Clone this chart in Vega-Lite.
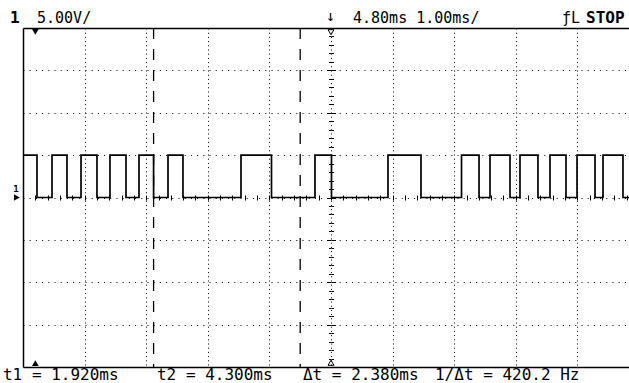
{
  "$schema": "https://vega.github.io/schema/vega-lite/v6.json",
  "width": 606,
  "height": 339,
  "autosize": {"type": "none"},
  "padding": {"left": 23, "top": 28, "right": 0, "bottom": 16},
  "background": "#ffffff",
  "config": {"view": {"stroke": null}, "text": {"font": "DejaVu Sans Mono", "color": "#000"}},
  "datasets": {
    "signal": [
      {"t": -0.2, "v": 5}, {"t": 0.027, "v": 0}, {"t": 0.271, "v": 5}, {"t": 0.514, "v": 0},
      {"t": 0.742, "v": 5}, {"t": 1.001, "v": 0}, {"t": 1.212, "v": 5}, {"t": 1.472, "v": 0},
      {"t": 1.683, "v": 5}, {"t": 1.92, "v": 0}, {"t": 2.154, "v": 5}, {"t": 2.397, "v": 0},
      {"t": 3.339, "v": 5}, {"t": 3.834, "v": 0}, {"t": 4.54, "v": 5}, {"t": 4.808, "v": 0},
      {"t": 5.725, "v": 5}, {"t": 6.261, "v": 0}, {"t": 6.919, "v": 5}, {"t": 7.203, "v": 0},
      {"t": 7.381, "v": 5}, {"t": 7.706, "v": 0}, {"t": 7.868, "v": 5}, {"t": 8.16, "v": 0},
      {"t": 8.355, "v": 5}, {"t": 8.615, "v": 0}, {"t": 8.794, "v": 5}, {"t": 9.086, "v": 0},
      {"t": 9.216, "v": 5}, {"t": 9.54, "v": 0}, {"t": 9.6377, "v": 0}
    ],
    "cursors": [{"t": 1.92, "cursor": "t1"}, {"t": 4.3, "cursor": "t2"}],
    "filledMarkers": [
      {"t": 0, "v": 19.55, "marker": "top"},
      {"t": 0, "v": -19.55, "marker": "bottom"},
      {"t": -0.3, "v": 0, "marker": "ground"}
    ],
    "hollowMarkers": [
      {"t": 4.8, "v": 19.5, "marker": "top"},
      {"t": 4.8, "v": -19.5, "marker": "bottom"}
    ],
    "topText": [
      {"t": 0.027, "v": 21.2, "label": "5.00V/"},
      {"t": 4.72, "v": 21.4, "label": "↓"},
      {"t": 5.157, "v": 21.2, "label": "4.80ms 1.00ms/"},
      {"t": 8.55, "v": 21.2, "label": "ƒL"}
    ],
    "bottomText": [
      {"t": -0.525, "v": -20.95, "label": "t1 = 1.920ms"},
      {"t": 1.975, "v": -20.95, "label": "t2 = 4.300ms"},
      {"t": 4.345, "v": -20.95, "label": "Δt = 2.380ms"},
      {"t": 6.488, "v": -20.95, "label": "1/Δt = 420.2 Hz"}
    ],
    "boldText": [
      {"t": -0.411, "v": 21.2, "label": "1"},
      {"t": 8.94, "v": 21.2, "label": "STOP"}
    ],
    "groundText": [{"t": -0.36, "v": 0.95, "label": "1"}]
  },
  "resolve": {"axis": {"x": "independent", "y": "independent"}},
  "layer": [
    {
      "data": {"name": "signal"},
      "mark": {"type": "line", "interpolate": "step-after", "color": "#000", "strokeWidth": 1.7, "clip": true},
      "encoding": {
        "x": {"field": "t", "type": "quantitative",
          "scale": {"domain": [-0.2, 9.6377], "nice": false, "zero": false},
          "axis": {"orient": "bottom", "values": [0.8, 1.8, 2.8, 3.8, 4.8, 5.8, 6.8, 7.8, 8.8],
            "grid": true, "gridDash": [1, 3.2], "gridColor": "#000", "gridOpacity": 1, "gridWidth": 1,
            "ticks": false, "labels": false, "domain": true, "domainColor": "#000", "domainWidth": 1.5, "title": null}},
        "y": {"field": "v", "type": "quantitative",
          "scale": {"domain": [-20, 20], "nice": false, "zero": false},
          "axis": {"orient": "left", "values": [-15, -10, -5, 0, 5, 10, 15],
            "grid": true, "gridDash": [1, 5.2], "gridColor": "#000", "gridOpacity": 1, "gridWidth": 1,
            "ticks": false, "labels": false, "domain": true, "domainColor": "#000", "domainWidth": 1.5, "title": null}}
      }
    },
    {
      "data": {"name": "cursors"},
      "mark": {"type": "rule", "color": "#000", "strokeWidth": 1.3, "strokeDash": [11, 10]},
      "encoding": {
        "x": {"field": "t", "type": "quantitative",
          "axis": {"orient": "top", "values": [], "grid": false, "ticks": false, "labels": false,
            "domain": true, "domainColor": "#000", "domainWidth": 1.5, "title": null}}
      }
    },
    {
      "data": {"name": "filledMarkers"},
      "mark": {"type": "point", "filled": true, "color": "#000", "opacity": 1, "size": 45, "clip": false},
      "encoding": {
        "x": {"field": "t", "type": "quantitative",
          "axis": {"orient": "bottom", "offset": -169.5,
            "values": [-0.2, 0, 0.2, 0.4, 0.6, 0.8, 1, 1.2, 1.4, 1.6, 1.8, 2, 2.2, 2.4, 2.6, 2.8, 3, 3.2, 3.4, 3.6, 3.8, 4, 4.2, 4.4, 4.6, 4.8, 5, 5.2, 5.4, 5.6, 5.8, 6, 6.2, 6.4, 6.6, 6.8, 7, 7.2, 7.4, 7.6, 7.8, 8, 8.2, 8.4, 8.6, 8.8, 9, 9.2, 9.4, 9.6],
            "grid": false, "ticks": true, "tickSize": 2.5, "tickColor": "#000", "tickWidth": 1,
            "labels": false, "domain": false, "title": null}},
        "y": {"field": "v", "type": "quantitative",
          "axis": {"orient": "left", "offset": -308,
            "values": [-19, -18, -17, -16, -15, -14, -13, -12, -11, -10, -9, -8, -7, -6, -5, -4, -3, -2, -1, 0, 1, 2, 3, 4, 5, 6, 7, 8, 9, 10, 11, 12, 13, 14, 15, 16, 17, 18, 19],
            "grid": false, "ticks": true,
            "tickSize": {"condition": {"test": "datum.value % 5 === 0", "value": 4.5}, "value": 2.5},
            "tickColor": "#000", "tickWidth": 1,
            "labels": false, "domain": false, "title": null}},
        "shape": {"field": "marker", "type": "nominal", "legend": null,
          "scale": {"domain": ["top", "bottom", "ground"], "range": ["triangle-down", "triangle-up", "triangle-right"]}}
      }
    },
    {
      "data": {"name": "hollowMarkers"},
      "mark": {"type": "point", "filled": false, "color": "#000", "opacity": 1, "size": 35, "strokeWidth": 1, "clip": false},
      "encoding": {
        "x": {"field": "t", "type": "quantitative",
          "axis": {"orient": "top", "offset": -169.5,
            "values": [-0.2, 0, 0.2, 0.4, 0.6, 0.8, 1, 1.2, 1.4, 1.6, 1.8, 2, 2.2, 2.4, 2.6, 2.8, 3, 3.2, 3.4, 3.6, 3.8, 4, 4.2, 4.4, 4.6, 4.8, 5, 5.2, 5.4, 5.6, 5.8, 6, 6.2, 6.4, 6.6, 6.8, 7, 7.2, 7.4, 7.6, 7.8, 8, 8.2, 8.4, 8.6, 8.8, 9, 9.2, 9.4, 9.6],
            "grid": false, "ticks": true, "tickSize": 2.5, "tickColor": "#000", "tickWidth": 1,
            "labels": false, "domain": false, "title": null}},
        "y": {"field": "v", "type": "quantitative",
          "axis": {"orient": "right", "offset": -298,
            "values": [-19, -18, -17, -16, -15, -14, -13, -12, -11, -10, -9, -8, -7, -6, -5, -4, -3, -2, -1, 0, 1, 2, 3, 4, 5, 6, 7, 8, 9, 10, 11, 12, 13, 14, 15, 16, 17, 18, 19],
            "grid": false, "ticks": true,
            "tickSize": {"condition": {"test": "datum.value % 5 === 0", "value": 4.5}, "value": 2.5},
            "tickColor": "#000", "tickWidth": 1,
            "labels": false, "domain": false, "title": null}},
        "shape": {"field": "marker", "type": "nominal", "legend": null}
      }
    },
    {
      "data": {"name": "topText"},
      "mark": {"type": "text", "align": "left", "baseline": "middle", "fontSize": 15, "font": "DejaVu Sans Mono", "clip": false},
      "encoding": {
        "x": {"field": "t", "type": "quantitative", "axis": null},
        "y": {"field": "v", "type": "quantitative", "axis": null},
        "text": {"field": "label"}
      }
    },
    {
      "data": {"name": "bottomText"},
      "mark": {"type": "text", "align": "left", "baseline": "middle", "fontSize": 16, "font": "DejaVu Sans Mono", "clip": false},
      "encoding": {
        "x": {"field": "t", "type": "quantitative", "axis": null},
        "y": {"field": "v", "type": "quantitative", "axis": null},
        "text": {"field": "label"}
      }
    },
    {
      "data": {"name": "boldText"},
      "mark": {"type": "text", "align": "left", "baseline": "middle", "fontSize": 16, "fontWeight": "bold", "font": "DejaVu Sans Mono", "clip": false},
      "encoding": {
        "x": {"field": "t", "type": "quantitative", "axis": null},
        "y": {"field": "v", "type": "quantitative", "axis": null},
        "text": {"field": "label"}
      }
    },
    {
      "data": {"name": "groundText"},
      "mark": {"type": "text", "align": "left", "baseline": "middle", "fontSize": 9, "fontWeight": "bold", "font": "DejaVu Sans Mono", "clip": false},
      "encoding": {
        "x": {"field": "t", "type": "quantitative", "axis": null},
        "y": {"field": "v", "type": "quantitative", "axis": null},
        "text": {"field": "label"}
      }
    }
  ]
}
